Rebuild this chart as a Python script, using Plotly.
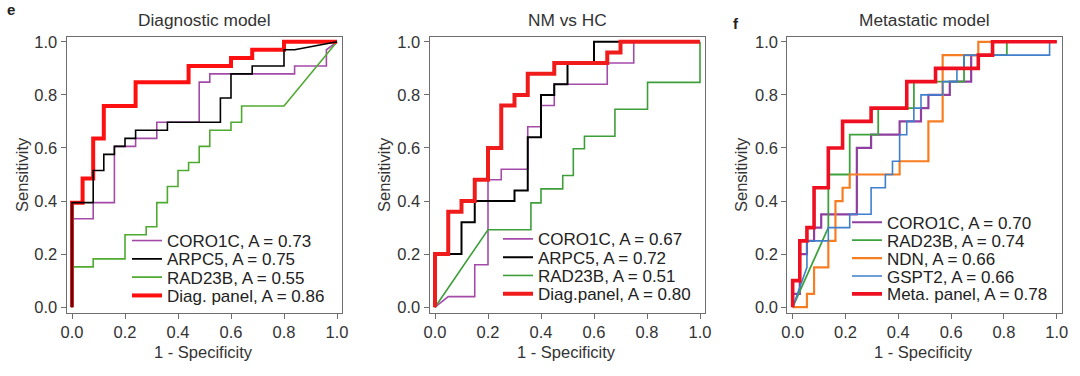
import plotly.graph_objects as go

# ---------------- data ----------------
# Panel e-1: Diagnostic model
diag_coro1c_x = [0, 0, 0.08, 0.08, 0.16, 0.16, 0.24, 0.24, 0.32, 0.32, 0.48, 0.48, 0.52, 0.52, 0.84, 0.84, 0.96, 0.96, 1]
diag_coro1c_y = [0, 0.333, 0.333, 0.394, 0.394, 0.606, 0.606, 0.636, 0.636, 0.697, 0.697, 0.848, 0.848, 0.879, 0.879, 0.909, 0.909, 0.970, 1]
diag_arpc5_x = [0, 0, 0.08, 0.08, 0.12, 0.12, 0.16, 0.16, 0.20, 0.20, 0.24, 0.24, 0.36, 0.36, 0.56, 0.56, 0.60, 0.60, 0.68, 0.68, 0.80, 0.80, 0.84, 1]
diag_arpc5_y = [0, 0.394, 0.394, 0.515, 0.515, 0.576, 0.576, 0.606, 0.606, 0.636, 0.636, 0.667, 0.667, 0.697, 0.697, 0.788, 0.788, 0.879, 0.879, 0.909, 0.909, 0.970, 0.970, 1]
diag_rad23b_x = [0, 0, 0.08, 0.08, 0.20, 0.20, 0.28, 0.28, 0.32, 0.32, 0.36, 0.36, 0.40, 0.40, 0.44, 0.44, 0.48, 0.48, 0.52, 0.52, 0.60, 0.60, 0.64, 0.64, 0.80, 1]
diag_rad23b_y = [0, 0.152, 0.152, 0.182, 0.182, 0.273, 0.273, 0.303, 0.303, 0.394, 0.394, 0.455, 0.455, 0.515, 0.515, 0.545, 0.545, 0.606, 0.606, 0.667, 0.667, 0.697, 0.697, 0.758, 0.758, 1]
diag_panel_x = [0, 0, 0.04, 0.04, 0.08, 0.08, 0.12, 0.12, 0.24, 0.24, 0.44, 0.44, 0.60, 0.60, 0.68, 0.68, 0.80, 0.80, 1]
diag_panel_y = [0, 0.394, 0.394, 0.485, 0.485, 0.636, 0.636, 0.758, 0.758, 0.848, 0.848, 0.909, 0.909, 0.939, 0.939, 0.970, 0.970, 1, 1]

# Panel e-2: NM vs HC
nm_coro1c_x = [0, 0.05, 0.15, 0.15, 0.20, 0.20, 0.25, 0.25, 0.35, 0.35, 0.40, 0.40, 0.45, 0.45, 0.65, 0.65, 0.75, 0.75, 1]
nm_coro1c_y = [0, 0.04, 0.04, 0.16, 0.16, 0.48, 0.48, 0.52, 0.52, 0.68, 0.68, 0.76, 0.76, 0.84, 0.84, 0.92, 0.92, 1, 1]
nm_arpc5_x = [0, 0, 0.10, 0.10, 0.15, 0.15, 0.30, 0.30, 0.35, 0.35, 0.40, 0.40, 0.45, 0.45, 0.50, 0.50, 0.60, 0.60, 1]
nm_arpc5_y = [0, 0.20, 0.20, 0.32, 0.32, 0.40, 0.40, 0.44, 0.44, 0.64, 0.64, 0.80, 0.80, 0.84, 0.84, 0.92, 0.92, 1, 1]
nm_rad23b_x = [0, 0.20, 0.362, 0.362, 0.40, 0.40, 0.482, 0.482, 0.522, 0.522, 0.564, 0.564, 0.679, 0.679, 0.802, 0.802, 1, 1]
nm_rad23b_y = [0, 0.292, 0.292, 0.393, 0.393, 0.446, 0.446, 0.496, 0.496, 0.597, 0.597, 0.644, 0.644, 0.746, 0.746, 0.847, 0.847, 1]
nm_panel_x = [0, 0, 0.05, 0.05, 0.10, 0.10, 0.15, 0.15, 0.20, 0.20, 0.25, 0.25, 0.30, 0.30, 0.35, 0.35, 0.45, 0.45, 0.65, 0.65, 0.70, 0.70, 1]
nm_panel_y = [0, 0.20, 0.20, 0.36, 0.36, 0.40, 0.40, 0.48, 0.48, 0.60, 0.60, 0.76, 0.76, 0.80, 0.80, 0.88, 0.88, 0.92, 0.92, 0.96, 0.96, 1, 1]

# Panel f: Metastatic model
meta_coro1c_x = [0, 0, 0.027, 0.027, 0.054, 0.054, 0.081, 0.081, 0.108, 0.108, 0.243, 0.243, 0.297, 0.297, 0.405, 0.405, 0.486, 0.486, 0.514, 0.514, 0.595, 0.595, 0.676, 0.676, 0.757, 0.757, 1]
meta_coro1c_y = [0, 0.05, 0.05, 0.20, 0.20, 0.25, 0.25, 0.30, 0.30, 0.35, 0.35, 0.60, 0.60, 0.65, 0.65, 0.70, 0.70, 0.75, 0.75, 0.80, 0.80, 0.85, 0.85, 0.95, 0.95, 1, 1]
meta_rad23b_x = [0, 0.135, 0.135, 0.216, 0.216, 0.324, 0.324, 0.459, 0.459, 0.649, 0.649, 0.811, 0.811, 1]
meta_rad23b_y = [0, 0.30, 0.50, 0.50, 0.65, 0.65, 0.75, 0.75, 0.85, 0.85, 0.95, 0.95, 1, 1]
meta_ndn_x = [0, 0.054, 0.054, 0.081, 0.081, 0.135, 0.135, 0.162, 0.162, 0.189, 0.189, 0.216, 0.216, 0.405, 0.405, 0.514, 0.514, 0.568, 0.568, 0.703, 0.703, 1]
meta_ndn_y = [0, 0, 0.05, 0.05, 0.15, 0.15, 0.25, 0.25, 0.40, 0.40, 0.45, 0.45, 0.50, 0.50, 0.55, 0.55, 0.70, 0.70, 0.95, 0.95, 1, 1]
meta_gspt2_x = [0, 0.054, 0.054, 0.135, 0.135, 0.216, 0.216, 0.297, 0.297, 0.351, 0.351, 0.378, 0.378, 0.405, 0.405, 0.432, 0.432, 0.459, 0.459, 0.486, 0.486, 0.568, 0.568, 0.622, 0.622, 0.649, 0.649, 0.973, 0.973, 1]
meta_gspt2_y = [0, 0.15, 0.25, 0.25, 0.30, 0.30, 0.35, 0.35, 0.45, 0.45, 0.50, 0.50, 0.55, 0.55, 0.65, 0.65, 0.70, 0.70, 0.75, 0.75, 0.80, 0.80, 0.85, 0.85, 0.90, 0.90, 0.95, 0.95, 1, 1]
meta_panel_x = [0, 0, 0.027, 0.027, 0.054, 0.054, 0.081, 0.081, 0.135, 0.135, 0.189, 0.189, 0.297, 0.297, 0.432, 0.432, 0.541, 0.541, 0.703, 0.703, 0.757, 0.757, 1]
meta_panel_y = [0, 0.10, 0.10, 0.25, 0.25, 0.30, 0.30, 0.45, 0.45, 0.60, 0.60, 0.70, 0.70, 0.75, 0.75, 0.85, 0.85, 0.90, 0.90, 0.95, 0.95, 1, 1]

panel_titles = ["Diagnostic model", "NM vs HC", "Metastatic model"]
tick_vals = [0, 0.2, 0.4, 0.6, 0.8, 1.0]
tick_text = ["0.0", "0.2", "0.4", "0.6", "0.8", "1.0"]

# ---------------- layout helpers ----------------
W, H = 1080, 376
FONT = "Liberation Sans, Arial, sans-serif"
px_dom = [(66.7, 342.3), (429.7, 705.3), (787.4, 1062.0)]
y_top, y_bot = 36.5, 312.5

fig = go.Figure()

# (x, y, name, color, width, panel, legend text x px, legend row y px)
series = [
    # panel 1 (draw order)
    (diag_coro1c_x, diag_coro1c_y, "CORO1C, A = 0.73", "#A44BAA", 1.6, 1, 168, 240.0),
    (diag_rad23b_x, diag_rad23b_y, "RAD23B, A = 0.55", "#4FAA32", 1.6, 1, 168, 276.6),
    (diag_panel_x, diag_panel_y, "Diag. panel, A = 0.86", "#FF1010", 4.0, 1, 168, 294.9),
    (diag_arpc5_x, diag_arpc5_y, "ARPC5, A = 0.75", "#000000", 1.6, 1, 168, 258.3),
    # panel 2
    (nm_coro1c_x, nm_coro1c_y, "CORO1C, A = 0.67", "#A44BAA", 1.6, 2, 539, 238.3),
    (nm_arpc5_x, nm_arpc5_y, "ARPC5, A = 0.72", "#000000", 2.0, 2, 539, 256.6),
    (nm_rad23b_x, nm_rad23b_y, "RAD23B, A = 0.51", "#3E9E3A", 1.6, 2, 539, 274.9),
    (nm_panel_x, nm_panel_y, "Diag.panel, A = 0.80", "#F01C1C", 4.0, 2, 539, 293.2),
    # panel 3
    (meta_coro1c_x, meta_coro1c_y, "CORO1C, A = 0.70", "#8E3FA0", 2.2, 3, 888, 221.7),
    (meta_rad23b_x, meta_rad23b_y, "RAD23B, A = 0.74", "#3DA23D", 1.8, 3, 888, 239.6),
    (meta_ndn_x, meta_ndn_y, "NDN, A = 0.66", "#F77D22", 2.2, 3, 888, 257.5),
    (meta_gspt2_x, meta_gspt2_y, "GSPT2, A = 0.66", "#3F7FCC", 1.6, 3, 888, 275.4),
    (meta_panel_x, meta_panel_y, "Meta. panel, A = 0.78", "#EE1020", 3.6, 3, 888, 293.3),
]

legends = {}
for i, (xs, ys, name, col, lw, p, tx, ty) in enumerate(series):
    lname = "legend" if i == 0 else f"legend{i+1}"
    axs = "" if p == 1 else str(p)
    fig.add_trace(go.Scatter(
        x=xs, y=ys, mode="lines", name=name,
        line=dict(color=col, width=lw),
        xaxis="x" + axs, yaxis="y" + axs,
        legend=lname, showlegend=True, hoverinfo="skip",
    ))
    legends[lname] = dict(
        x=(tx - 41) / W, y=1 - (ty + 1) / H, xanchor="left", yanchor="middle",
        xref="paper", yref="paper",
        bgcolor="rgba(0,0,0,0)", borderwidth=0,
        font=dict(family=FONT, size=17, color="#222"),
        tracegroupgap=0, itemclick=False, itemdoubleclick=False,
    )

axis_common = dict(
    range=[-0.02, 1.02], tickvals=tick_vals, ticktext=tick_text,
    showgrid=False, zeroline=False, showline=True, linecolor="#6e6e6e",
    linewidth=1.2, mirror=True, ticks="outside", ticklen=5, tickwidth=1,
    tickcolor="#6e6e6e", tickfont=dict(family=FONT, size=16.5, color="#333"),
    fixedrange=True, automargin=False,
)

lay = dict(
    width=W, height=H, margin=dict(l=0, r=0, t=0, b=0),
    paper_bgcolor="white", plot_bgcolor="white",
    font=dict(family=FONT, color="#333"),
)
for p in range(3):
    suf = "" if p == 0 else str(p + 1)
    x0, x1 = px_dom[p]
    lay["xaxis" + suf] = dict(axis_common, domain=[x0 / W, x1 / W], anchor="y" + suf)
    lay["yaxis" + suf] = dict(axis_common, domain=[1 - y_bot / H, 1 - y_top / H], anchor="x" + suf)
lay.update(legends)
fig.update_layout(**lay)

annots = []
ylab_x = [22, 384, 741]
for p in range(3):
    x0, x1 = px_dom[p]
    cx = (x0 + x1) / 2 / W
    annots.append(dict(text=panel_titles[p], x=cx, y=1 - 20 / H, xref="paper", yref="paper",
                       showarrow=False, xanchor="center", yanchor="middle",
                       font=dict(family=FONT, size=17.3, color="#333")))
    annots.append(dict(text="1 - Specificity", x=cx - 1.5 / W, y=1 - 352 / H, xref="paper", yref="paper",
                       showarrow=False, xanchor="center", yanchor="middle",
                       font=dict(family=FONT, size=16.5, color="#333")))
    annots.append(dict(text="Sensitivity", x=ylab_x[p] / W, y=1 - 175 / H, xref="paper", yref="paper",
                       showarrow=False, xanchor="center", yanchor="middle", textangle=-90,
                       font=dict(family=FONT, size=16.5, color="#333")))
annots.append(dict(text="<b>e</b>", x=11 / W, y=1 - 10 / H, xref="paper", yref="paper",
                   showarrow=False, xanchor="center", yanchor="middle",
                   font=dict(family=FONT, size=15, color="#222")))
annots.append(dict(text="<b>f</b>", x=736 / W, y=1 - 23 / H, xref="paper", yref="paper",
                   showarrow=False, xanchor="center", yanchor="middle",
                   font=dict(family=FONT, size=15, color="#222")))
fig.update_layout(annotations=annots)

fig.write_html("out.html", config={"displayModeBar": False},
               post_script="document.body.style.margin='0px';document.body.style.padding='0px';")
